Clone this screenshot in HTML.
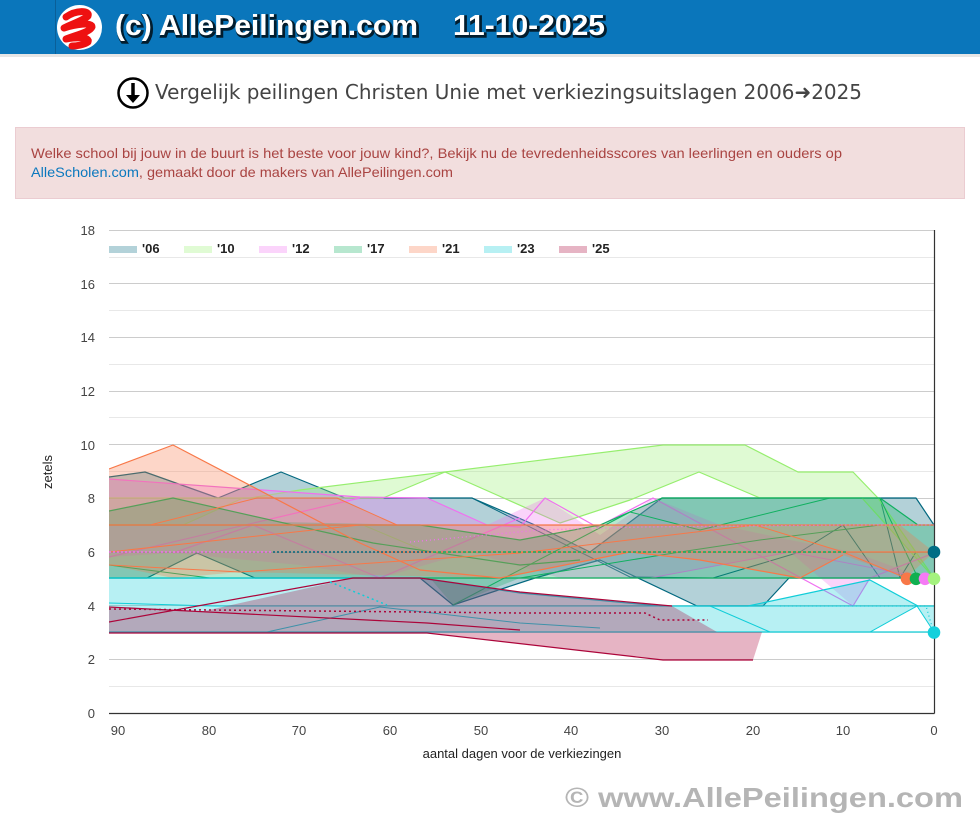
<!DOCTYPE html>
<html><head><meta charset="utf-8"><style>
html,body{margin:0;padding:0;background:#fff;}
svg{display:block;}
</style></head><body>
<svg width="980" height="819" viewBox="0 0 980 819" xmlns="http://www.w3.org/2000/svg" font-family="Liberation Sans, Arial, sans-serif">
<defs>
<clipPath id="pc"><rect x="109" y="230" width="825.5" height="483"/></clipPath>
</defs>
<!-- header -->
<rect x="0" y="0" width="980" height="54" fill="#0a76bb"/>
<rect x="55" y="0" width="1" height="54" fill="#0a5f98"/>
<rect x="0" y="54" width="980" height="3" fill="#e6e6e6"/>
<circle cx="79.5" cy="27.5" r="22.5" fill="#fff"/>
<path d="M66,17 C76,10 90,10 88,16 C84,20 72,24 64,28 C76,24 92,22 92,27 C90,32 76,35 66,39 C78,37 90,37 88,42 C84,45 76,46 72,46" fill="none" stroke="#ee1111" stroke-width="7" stroke-linecap="round" stroke-linejoin="round"/>
<g font-weight="bold" font-size="29">
<text x="116.5" y="36.5" textLength="303" lengthAdjust="spacingAndGlyphs" fill="#000" stroke="#000" stroke-width="2.5" opacity="0.75">(c) AllePeilingen.com</text>
<text x="454.5" y="36.5" textLength="152" lengthAdjust="spacingAndGlyphs" fill="#000" stroke="#000" stroke-width="2.5" opacity="0.75">11-10-2025</text>
<text x="115" y="35" textLength="303" lengthAdjust="spacingAndGlyphs" fill="#fff">(c) AllePeilingen.com</text>
<text x="453" y="35" textLength="152" lengthAdjust="spacingAndGlyphs" fill="#fff">11-10-2025</text>
</g>
<!-- title -->
<circle cx="133" cy="93" r="14.5" fill="#fff" stroke="#000" stroke-width="2.5"/>
<line x1="133" y1="83" x2="133" y2="97" stroke="#000" stroke-width="3.5"/>
<path d="M126,95 L140,95 L133,103 Z" fill="#000"/>
<text x="155" y="99" font-family="DejaVu Sans, sans-serif" font-size="20" fill="#444" textLength="707" lengthAdjust="spacingAndGlyphs">Vergelijk peilingen Christen Unie met verkiezingsuitslagen 2006➜2025</text>
<!-- alert -->
<rect x="15.5" y="127.5" width="949" height="71" fill="#f2dede" stroke="#ebccd1"/>
<text x="31" y="158" font-size="14" fill="#a94442" textLength="811" lengthAdjust="spacingAndGlyphs">Welke school bij jouw in de buurt is het beste voor jouw kind?, Bekijk nu de tevredenheidsscores van leerlingen en ouders op</text>
<text x="31" y="177" font-size="14" fill="#a94442" textLength="422" lengthAdjust="spacingAndGlyphs"><tspan fill="#0b78be">AlleScholen.com</tspan>, gemaakt door de makers van AllePeilingen.com</text>
<!-- gridlines -->
<g stroke-width="1">
<line x1="109" x2="934" y1="686.5" y2="686.5" stroke="#e8e8e8"/>
<line x1="109" x2="934" y1="659.5" y2="659.5" stroke="#cccccc"/>
<line x1="109" x2="934" y1="632.5" y2="632.5" stroke="#e8e8e8"/>
<line x1="109" x2="934" y1="605.5" y2="605.5" stroke="#cccccc"/>
<line x1="109" x2="934" y1="578.5" y2="578.5" stroke="#e8e8e8"/>
<line x1="109" x2="934" y1="552.5" y2="552.5" stroke="#cccccc"/>
<line x1="109" x2="934" y1="525.5" y2="525.5" stroke="#e8e8e8"/>
<line x1="109" x2="934" y1="498.5" y2="498.5" stroke="#cccccc"/>
<line x1="109" x2="934" y1="471.5" y2="471.5" stroke="#e8e8e8"/>
<line x1="109" x2="934" y1="444.5" y2="444.5" stroke="#cccccc"/>
<line x1="109" x2="934" y1="417.5" y2="417.5" stroke="#e8e8e8"/>
<line x1="109" x2="934" y1="391.5" y2="391.5" stroke="#cccccc"/>
<line x1="109" x2="934" y1="364.5" y2="364.5" stroke="#e8e8e8"/>
<line x1="109" x2="934" y1="337.5" y2="337.5" stroke="#cccccc"/>
<line x1="109" x2="934" y1="310.5" y2="310.5" stroke="#e8e8e8"/>
<line x1="109" x2="934" y1="283.5" y2="283.5" stroke="#cccccc"/>
<line x1="109" x2="934" y1="257.5" y2="257.5" stroke="#e8e8e8"/>
<line x1="109" x2="934" y1="230.5" y2="230.5" stroke="#cccccc"/>
</g>
<!-- series -->
<g clip-path="url(#pc)" stroke-linejoin="round">
<!-- 06 -->
<polygon fill="#02687f" fill-opacity="0.3" stroke="none" points="109,477 145,472 218,498 281,472 345,498 472,498 535,525 590,552 662,498 916,498 934,525 934,578 915,578 789,578 763,606 697,606 600,560 535,578 453,605 420,578 255,578 197,553 147,578 109,578"/>
<polyline fill="none" stroke="#02687f" stroke-width="1.2" points="109,477 145,472 218,498 281,472 345,498 472,498 535,525 590,552 662,498 916,498 934,525"/>
<polyline fill="none" stroke="#02687f" stroke-width="1.2" points="109,578 147,578 197,553 255,578 420,578 453,605 535,578 600,560 697,606 763,606 789,578 915,578 934,578"/>
<polyline fill="none" stroke="#02687f" stroke-width="1" points="343,498 472,498 630,577 713,578 800,552 843,525 880,578"/>
<polyline fill="none" stroke="#02687f" stroke-width="1" points="880,498 900,578 916,552"/>
<!-- 10 -->
<polygon fill="#96ee6e" fill-opacity="0.3" stroke="none" points="109,498 250,498 300,490 445,472 663,445 745,445 798,472 853,472 878,498 934,578 900,540 862,498 760,498 699,472 630,500 560,523 445,472 383,498 243,498 183,525 109,525"/>
<polyline fill="none" stroke="#96ee6e" stroke-width="1.2" points="109,498 250,498 300,490 445,472 663,445 745,445 798,472 853,472 878,498 934,578"/>
<polyline fill="none" stroke="#96ee6e" stroke-width="1.2" points="109,525 183,525 243,498 383,498 445,472 560,523 630,500 699,472 760,498 862,498 900,540 934,578"/>
<polyline fill="none" stroke="#96ee6e" stroke-width="1" points="363,525 427,552 520,552"/>
<!-- 12 -->
<polygon fill="#f070f0" fill-opacity="0.3" stroke="none" points="109,479 360,497 427,498 487,525 545,498 600,535 653,498 720,525 790,540 853,552 925,578 870,578 853,606 790,552 650,578 560,578 470,552 380,578 300,565 173,553 109,557"/>
<polyline fill="none" stroke="#f070f0" stroke-width="1.2" points="109,479 360,497 427,498 487,525 520,527 545,498 597,527 653,498 853,606 870,578 934,553"/>
<polyline fill="none" stroke="#f070f0" stroke-width="1.2" points="109,557 360,498"/>
<polyline fill="none" stroke="#f070f0" stroke-width="1.2" points="173,553 253,525 380,578 520,518"/>
<polyline fill="none" stroke="#f070f0" stroke-width="1" points="560,578 650,578 790,552 925,578"/>
<!-- 17 -->
<polygon fill="#10b060" fill-opacity="0.3" stroke="none" points="109,511 173,498 280,522 420,525 520,540 600,525 662,498 830,498 880,498 918,525 934,525 934,578 520,578 453,605 430,578 109,578"/>
<polyline fill="none" stroke="#10b060" stroke-width="1.2" points="109,511 173,498 373,543 520,565 580,560"/>
<polyline fill="none" stroke="#10b060" stroke-width="1.2" points="109,578 934,578"/>
<polyline fill="none" stroke="#10b060" stroke-width="1.2" points="109,525 420,525 520,540 600,525 662,498 830,498 880,498 918,525 934,525"/>
<polyline fill="none" stroke="#10b060" stroke-width="1" points="109,565 210,578"/>
<polyline fill="none" stroke="#10b060" stroke-width="1" points="453,605 630,512 700,530 830,498 880,498 918,578"/>
<polyline fill="none" stroke="#10b060" stroke-width="1" points="520,578 680,552 760,540 880,525 934,525"/>
<!-- 21 -->
<polygon fill="#f87848" fill-opacity="0.3" stroke="none" points="109,469 173,445 274,498 337,498 397,525 900,525 934,552 906,578 843,555 800,578 700,560 630,552 500,578 240,572 173,578 109,565"/>
<polyline fill="none" stroke="#f87848" stroke-width="1.2" points="109,469 173,445 360,543 420,570 500,578 630,552 700,560 800,578 843,555"/>
<polyline fill="none" stroke="#f87848" stroke-width="1.2" points="109,525 934,525"/>
<polyline fill="none" stroke="#f87848" stroke-width="1.2" points="380,552 934,552"/>
<polyline fill="none" stroke="#f87848" stroke-width="1" points="109,552 360,525 420,525"/>
<polyline fill="none" stroke="#f87848" stroke-width="1" points="150,525 257,498 337,498 397,525"/>
<polyline fill="none" stroke="#f87848" stroke-width="1" points="109,565 240,572 520,553 755,525 843,552 906,578"/>
<!-- 23 -->
<polygon fill="#10cdd8" fill-opacity="0.3" stroke="none" points="109,578 420,578 520,593 660,606 748,606 870,580 918,606 934,606 934,632 917,606 870,632 109,632"/>
<polyline fill="none" stroke="#10cdd8" stroke-width="1.2" points="109,578 420,578 520,593 660,606 748,606 870,580 918,606 934,606"/>
<polyline fill="none" stroke="#10cdd8" stroke-width="1.2" points="109,632 934,632"/>
<polyline fill="none" stroke="#10cdd8" stroke-width="1" points="109,603 213,606 934,606"/>
<polyline fill="none" stroke="#10cdd8" stroke-width="1" points="267,632 380,607 520,623 600,628"/>
<polyline fill="none" stroke="#10cdd8" stroke-width="1" points="710,606 770,632"/>
<polyline fill="none" stroke="#10cdd8" stroke-width="1" points="870,632 917,606 934,632"/>
<!-- 25 -->
<polygon fill="#ac053a" fill-opacity="0.3" stroke="none" points="109,607 200,612 353,578 420,578 520,592 672,606 717,632 762,632 753,660 663,660 427,633 109,633"/>
<polyline fill="none" stroke="#ac053a" stroke-width="1.2" points="109,622 353,578 420,578 520,592 672,606"/>
<polyline fill="none" stroke="#ac053a" stroke-width="1.2" points="109,607 427,623 520,630"/>
<polyline fill="none" stroke="#ac053a" stroke-width="1.2" points="109,633 427,633 663,660 753,660"/>
<!-- dotted averages -->
<polyline fill="none" stroke="#f070f0" stroke-width="1.5" stroke-dasharray="2,2" points="109,552 273,552"/>
<polyline fill="none" stroke="#02687f" stroke-width="1.5" stroke-dasharray="2,2" points="273,552 433,552"/>
<polyline fill="none" stroke="#10b060" stroke-width="1.5" stroke-dasharray="3,2" points="433,552 847,552"/>
<polyline fill="none" stroke="#f070f0" stroke-width="1.3" stroke-dasharray="1,3" points="410,542 540,530 640,527 850,525 934,525"/>
<polyline fill="none" stroke="#ac053a" stroke-width="1.5" stroke-dasharray="2,3" points="109,609 520,613 645,613 660,620 708,620"/>
<polyline fill="none" stroke="#10cdd8" stroke-width="1.5" stroke-dasharray="2,3" points="330,582 387,605"/>
<polyline fill="none" stroke="#10cdd8" stroke-width="1.3" stroke-dasharray="1,3" points="780,606 926,606 933,630"/>
</g>
<!-- axes -->
<line x1="109" y1="713.5" x2="934.5" y2="713.5" stroke="#333" stroke-width="1.2"/>
<line x1="934.5" y1="230" x2="934.5" y2="713.5" stroke="#333" stroke-width="1.2"/>
<!-- end dots -->
<circle cx="907" cy="578.8" r="6.3" fill="#f87848"/>
<circle cx="916" cy="578.8" r="6.3" fill="#10b050"/>
<circle cx="925" cy="578.8" r="6.3" fill="#f57af5"/>
<circle cx="934" cy="578.8" r="6.3" fill="#a4f27e"/>
<circle cx="934" cy="552" r="6.3" fill="#006d85"/>
<circle cx="934" cy="632.5" r="6.3" fill="#14d0dc"/>
<!-- legend -->
<g>
<rect x="109" y="246" width="28" height="7" fill="#b3d2d9"/>
<rect x="184" y="246" width="28" height="7" fill="#e0fbd4"/>
<rect x="259" y="246" width="28" height="7" fill="#fbd4fb"/>
<rect x="334" y="246" width="28" height="7" fill="#b7e7cf"/>
<rect x="409" y="246" width="28" height="7" fill="#fdd6c8"/>
<rect x="484" y="246" width="28" height="7" fill="#b7f0f3"/>
<rect x="559" y="246" width="28" height="7" fill="#e6b4c4"/>
</g>
<g font-size="13" font-weight="bold" fill="#222">
<text x="142" y="253">'06</text>
<text x="217" y="253">'10</text>
<text x="292" y="253">'12</text>
<text x="367" y="253">'17</text>
<text x="442" y="253">'21</text>
<text x="517" y="253">'23</text>
<text x="592" y="253">'25</text>
</g>
<!-- y labels -->
<g font-size="13" fill="#444" text-anchor="end">
<text x="95" y="718">0</text>
<text x="95" y="664">2</text>
<text x="95" y="611">4</text>
<text x="95" y="557">6</text>
<text x="95" y="503">8</text>
<text x="95" y="450">10</text>
<text x="95" y="396">12</text>
<text x="95" y="342">14</text>
<text x="95" y="289">16</text>
<text x="95" y="235">18</text>
</g>
<text transform="translate(52,472) rotate(-90)" font-size="13" fill="#222" text-anchor="middle">zetels</text>
<!-- x labels -->
<g font-size="13" fill="#444" text-anchor="middle">
<text x="118" y="735">90</text>
<text x="209" y="735">80</text>
<text x="299" y="735">70</text>
<text x="390" y="735">60</text>
<text x="481" y="735">50</text>
<text x="571" y="735">40</text>
<text x="662" y="735">30</text>
<text x="753" y="735">20</text>
<text x="843" y="735">10</text>
<text x="934" y="735">0</text>
</g>
<text x="522" y="758" font-size="13" fill="#222" text-anchor="middle">aantal dagen voor de verkiezingen</text>
<!-- footer -->
<text x="565" y="807" font-size="28" font-weight="bold" fill="#b5b5b5" textLength="398" lengthAdjust="spacingAndGlyphs">© www.AllePeilingen.com</text>
</svg>
</body></html>
